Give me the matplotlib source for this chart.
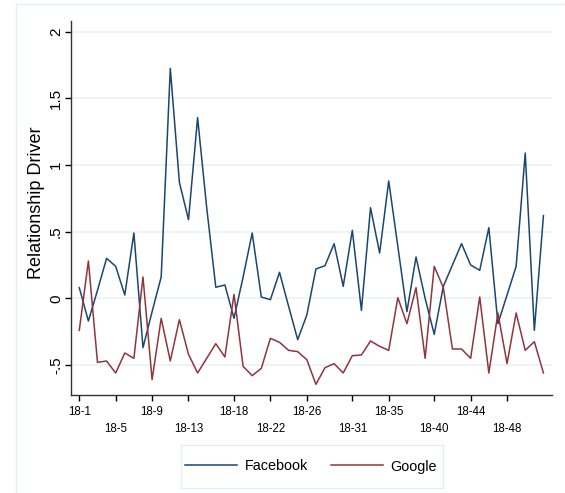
import matplotlib
matplotlib.use("Agg")
import matplotlib.pyplot as plt
from matplotlib.lines import Line2D
from matplotlib.patches import Rectangle

plt.rcParams["font.family"] = ["Liberation Sans", "DejaVu Sans"]

# Weekly series, 2018 weeks 1..52
weeks = list(range(1, 53))
facebook = [0.08, -0.17, 0.06, 0.30, 0.24, 0.025, 0.49, -0.37, -0.10, 0.16,
            1.725, 0.87, 0.59, 1.355, 0.68, 0.083, 0.10, -0.15, 0.16, 0.49,
            0.01, -0.01, 0.195, -0.06, -0.31, -0.125, 0.22, 0.245, 0.41, 0.09,
            0.51, -0.09, 0.68, 0.34, 0.88, 0.39, -0.10, 0.31, 0.0, -0.27,
            0.09, 0.25, 0.41, 0.25, 0.21, 0.53, -0.19, 0.025, 0.24, 1.09,
            -0.24, 0.62]
google = [-0.24, 0.28, -0.48, -0.47, -0.56, -0.41, -0.45, 0.16, -0.61, -0.15,
          -0.47, -0.16, -0.42, -0.56, -0.45, -0.34, -0.44, 0.03, -0.51, -0.58,
          -0.525, -0.30, -0.33, -0.39, -0.40, -0.46, -0.645, -0.52, -0.49, -0.56,
          -0.43, -0.425, -0.32, -0.36, -0.39, 0.005, -0.19, 0.08, -0.45, 0.24,
          0.08, -0.38, -0.38, -0.45, 0.01, -0.56, -0.11, -0.49, -0.11, -0.39,
          -0.325, -0.56]

tick_weeks = [1, 5, 9, 13, 18, 22, 26, 31, 35, 40, 44, 48]
tick_labels = [f"18-{w}" for w in tick_weeks]
y_ticks = [-0.5, 0, 0.5, 1, 1.5, 2]
y_tick_labels = ["-.5", "0", ".5", "1", "1.5", "2"]

W, H = 565, 493
fig = plt.figure(figsize=(W / 100, H / 100), dpi=100)

# light outer frame of the graph region
frame_col = "#e6eef0"
fig.add_artist(Line2D([16 / W, 1.0], [1 - 4 / H, 1 - 4 / H], color=frame_col, lw=1.0))
fig.add_artist(Line2D([16 / W, 16 / W], [0.0, 1 - 4 / H], color=frame_col, lw=1.0))

left, right, top, bottom = 71, 552, 21, 395
ax = fig.add_axes([left / W, 1 - bottom / H, (right - left) / W, (bottom - top) / H])

navy = "#1a476f"
maroon = "#90353b"
ax.plot(weeks, facebook, color=navy, lw=1.1, label="Facebook")
ax.plot(weeks, google, color=maroon, lw=1.1, label="Google")

ax.set_xlim(0.09, 52.94)
ax.set_ylim(-0.725, 2.08)

for s in ["top", "right"]:
    ax.spines[s].set_visible(False)
for s in ["left", "bottom"]:
    ax.spines[s].set_color("#333333")
    ax.spines[s].set_linewidth(1.0)

ax.set_yticks(y_ticks)
ax.set_yticklabels(y_tick_labels, rotation=90, va="center", fontsize=11)
ax.tick_params(axis="y", length=4.3, width=1, pad=1.5, colors="#000000")
ax.grid(axis="y", color="#eaf2f3", lw=1.2)
ax.set_axisbelow(True)

ax.set_xticks(tick_weeks[0::2])
ax.set_xticklabels(tick_labels[0::2], fontsize=8.3)
ax.set_xticks(tick_weeks[1::2], minor=True)
ax.set_xticklabels(tick_labels[1::2], minor=True, fontsize=8.3)
ax.tick_params(axis="x", which="major", length=4.3, width=1, pad=3.5)
ax.tick_params(axis="x", which="minor", length=4.3, width=1, pad=16)

ax.set_ylabel("Relationship Driver", fontsize=13)
ax.yaxis.set_label_coords(-0.055, 0.515)

# legend box
fig.add_artist(Rectangle((181 / W, 1 - 488 / H), (443 - 181) / W, (488 - 445) / H,
                         transform=fig.transFigure, facecolor="white",
                         edgecolor=frame_col, lw=1.0))
leg = fig.legend(loc="center", bbox_to_anchor=(311 / W, 1 - 466.5 / H), ncol=2,
                 frameon=False, fontsize=10.4, handlelength=3.6,
                 columnspacing=1.6, handletextpad=0.5)

fig.savefig("out.png", dpi=100)
